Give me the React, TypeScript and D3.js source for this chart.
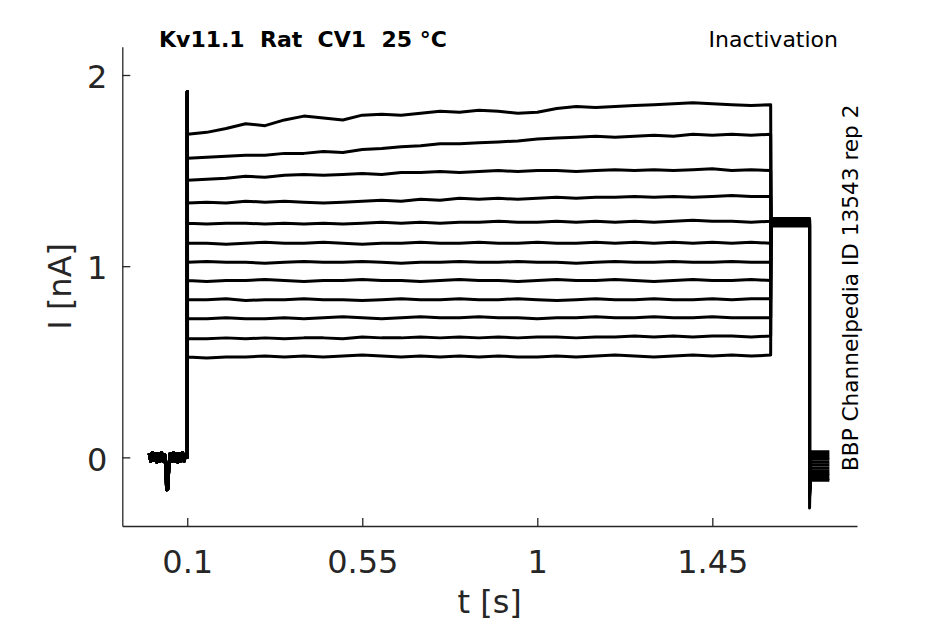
import React, { useEffect, useRef } from 'react';
import * as d3 from 'd3';

// axis ticks
const xTicks = [0.1, 0.55, 1, 1.45];
const yTicks = [0, 1, 2];

// holding period before the step (s, nA)
const baseTimes = [0.002, 0.006, 0.010, 0.014, 0.018, 0.022, 0.026, 0.030, 0.034, 0.038, 0.042, 0.045, 0.047, 0.050, 0.053, 0.056, 0.060, 0.064, 0.068, 0.072, 0.076, 0.080, 0.084, 0.088, 0.092, 0.096, 0.100];
const baseValues = [0.02, -0.02, 0.025, -0.015, 0.02, -0.025, 0.02, -0.02, 0.025, -0.02, 0.015, -0.06, -0.17, -0.165, -0.04, 0.02, -0.02, 0.025, -0.02, 0.02, -0.025, 0.02, -0.02, 0.025, -0.02, 0.015, 0.0];

// capacitive peak at the step onset
const peakTime = 0.1;
const peakValue = 1.913;

// step period, one row per sweep
const stepTimes = [0.1, 0.15, 0.2, 0.25, 0.3, 0.35, 0.4, 0.45, 0.5, 0.55, 0.6, 0.65, 0.7, 0.75, 0.8, 0.85, 0.9, 0.95, 1.0, 1.05, 1.1, 1.15, 1.2, 1.25, 1.3, 1.35, 1.4, 1.45, 1.5, 1.55, 1.6];
const sweep1 = [1.69, 1.70, 1.72, 1.745, 1.735, 1.765, 1.785, 1.775, 1.765, 1.79, 1.795, 1.79, 1.80, 1.81, 1.805, 1.815, 1.81, 1.80, 1.805, 1.825, 1.835, 1.83, 1.835, 1.84, 1.845, 1.85, 1.855, 1.85, 1.845, 1.84, 1.845];
const sweep2 = [1.565, 1.57, 1.575, 1.58, 1.58, 1.59, 1.59, 1.60, 1.595, 1.61, 1.615, 1.625, 1.63, 1.64, 1.64, 1.645, 1.65, 1.655, 1.665, 1.67, 1.675, 1.68, 1.675, 1.68, 1.685, 1.68, 1.69, 1.685, 1.69, 1.685, 1.69];
const sweep3 = [1.45, 1.455, 1.46, 1.47, 1.465, 1.475, 1.48, 1.475, 1.48, 1.485, 1.48, 1.49, 1.49, 1.495, 1.49, 1.495, 1.50, 1.495, 1.50, 1.50, 1.495, 1.50, 1.505, 1.50, 1.505, 1.50, 1.505, 1.51, 1.50, 1.505, 1.50];
const sweep4 = [1.33, 1.335, 1.33, 1.34, 1.335, 1.34, 1.335, 1.33, 1.335, 1.34, 1.345, 1.34, 1.35, 1.345, 1.355, 1.35, 1.355, 1.35, 1.355, 1.36, 1.355, 1.36, 1.36, 1.365, 1.36, 1.365, 1.36, 1.365, 1.37, 1.365, 1.365];
const sweep5 = [1.225, 1.22, 1.225, 1.225, 1.22, 1.225, 1.22, 1.225, 1.22, 1.225, 1.23, 1.225, 1.23, 1.225, 1.23, 1.23, 1.235, 1.23, 1.23, 1.235, 1.23, 1.235, 1.23, 1.235, 1.23, 1.235, 1.24, 1.235, 1.235, 1.23, 1.235];
const sweep6 = [1.12, 1.12, 1.115, 1.12, 1.125, 1.12, 1.12, 1.125, 1.12, 1.115, 1.12, 1.12, 1.125, 1.12, 1.12, 1.125, 1.12, 1.12, 1.125, 1.12, 1.12, 1.125, 1.12, 1.125, 1.12, 1.125, 1.12, 1.125, 1.12, 1.125, 1.12];
const sweep7 = [1.02, 1.025, 1.02, 1.02, 1.015, 1.02, 1.025, 1.02, 1.02, 1.025, 1.02, 1.015, 1.02, 1.02, 1.025, 1.02, 1.02, 1.025, 1.02, 1.02, 1.015, 1.02, 1.025, 1.02, 1.02, 1.025, 1.02, 1.02, 1.025, 1.02, 1.02];
const sweep8 = [0.925, 0.92, 0.925, 0.925, 0.93, 0.925, 0.92, 0.925, 0.925, 0.93, 0.925, 0.925, 0.92, 0.925, 0.93, 0.925, 0.925, 0.92, 0.925, 0.93, 0.925, 0.925, 0.93, 0.925, 0.92, 0.925, 0.93, 0.925, 0.925, 0.93, 0.925];
const sweep9 = [0.825, 0.825, 0.83, 0.82, 0.825, 0.825, 0.83, 0.825, 0.825, 0.82, 0.825, 0.83, 0.825, 0.825, 0.83, 0.825, 0.825, 0.83, 0.825, 0.82, 0.825, 0.83, 0.825, 0.825, 0.83, 0.825, 0.825, 0.83, 0.825, 0.83, 0.83];
const sweep10 = [0.725, 0.725, 0.73, 0.725, 0.725, 0.73, 0.725, 0.73, 0.735, 0.73, 0.725, 0.73, 0.735, 0.73, 0.73, 0.735, 0.73, 0.73, 0.725, 0.73, 0.73, 0.735, 0.73, 0.73, 0.735, 0.73, 0.73, 0.735, 0.73, 0.73, 0.73];
const sweep11 = [0.62, 0.62, 0.625, 0.62, 0.625, 0.62, 0.625, 0.625, 0.62, 0.63, 0.625, 0.625, 0.63, 0.625, 0.63, 0.625, 0.63, 0.625, 0.63, 0.63, 0.625, 0.63, 0.63, 0.635, 0.63, 0.635, 0.63, 0.635, 0.635, 0.63, 0.635];
const sweep12 = [0.525, 0.52, 0.525, 0.525, 0.53, 0.525, 0.53, 0.525, 0.53, 0.535, 0.53, 0.525, 0.53, 0.525, 0.53, 0.525, 0.53, 0.525, 0.525, 0.53, 0.525, 0.53, 0.535, 0.53, 0.525, 0.53, 0.535, 0.53, 0.535, 0.53, 0.535];
const sweeps = [sweep1, sweep2, sweep3, sweep4, sweep5, sweep6, sweep7, sweep8, sweep9, sweep10, sweep11, sweep12];

// tail period after the step, one level per sweep
const tailTimes = [1.601, 1.625, 1.65, 1.675, 1.70];
const tailLevels = [1.25, 1.215, 1.24, 1.225, 1.245, 1.21, 1.235, 1.22, 1.25, 1.23, 1.215, 1.24];

// return to holding, transient minimum and settled level per sweep
const dropTime = 1.70;
const dropLevels = [-0.265, -0.2, -0.18, -0.15, -0.21, -0.16, -0.19, -0.14, -0.17, -0.2, -0.15, -0.18];
const endTimes = [1.703, 1.71, 1.72, 1.73, 1.74, 1.751];
const endLevels = [0.03, -0.11, 0.015, -0.07, -0.025, -0.095, 0.0, -0.04, -0.12, -0.055, -0.01, -0.085];

const App = () => {
  const svgRef = useRef<SVGSVGElement>(null);

  useEffect(() => {
    if (svgRef.current) drawChart();
  }, []);

  const drawChart = () => {
    const svg = d3.select(svgRef.current);
    svg.selectAll('*').remove();

    const left = 122.3, right = 857, top = 46.7, bottom = 526;
    const axisColor = '#262626';
    const font = 'DejaVu Sans, Verdana, sans-serif';

    const x = d3.scaleLinear().domain([-0.067, 1.822]).range([left, right]);
    const y = d3.scaleLinear().domain([-0.359, 2.148]).range([bottom, top]);

    const line = d3.line<[number, number]>()
      .x(d => x(d[0]))
      .y(d => y(d[1]));

    // traces
    const traces = svg.append('g');
    sweeps.forEach((values, i) => {
      const pts: [number, number][] = [];
      baseTimes.forEach((t, j) => pts.push([t, baseValues[j]]));
      pts.push([peakTime, peakValue]);
      stepTimes.forEach((t, j) => pts.push([t + (j === 0 ? 0.0008 : 0), values[j]]));
      tailTimes.forEach(t => pts.push([t, tailLevels[i]]));
      pts.push([dropTime, dropLevels[i]]);
      endTimes.forEach(t => pts.push([t, endLevels[i]]));
      traces.append('path')
        .attr('d', line(pts))
        .attr('fill', 'none')
        .attr('stroke', '#000')
        .attr('stroke-width', 3)
        .attr('stroke-linejoin', 'round');
    });

    // x axis
    const xAxis = svg.append('g')
      .attr('transform', `translate(0,${bottom})`)
      .call(d3.axisBottom(x).tickValues(xTicks).tickSize(-8).tickSizeOuter(0).tickPadding(24).tickFormat(d => String(d)));

    // y axis
    const yAxis = svg.append('g')
      .attr('transform', `translate(${left},0)`)
      .call(d3.axisLeft(y).tickValues(yTicks).tickSize(-8).tickSizeOuter(0).tickPadding(15).tickFormat(d => String(d)));
    yAxis.selectAll('.tick text').attr('dy', '0.4em');

    [xAxis, yAxis].forEach(g => {
      g.attr('font-family', font).attr('font-size', 32);
      g.select('.domain').attr('stroke', axisColor).attr('stroke-width', 1.3);
      g.selectAll('.tick line').attr('stroke', axisColor).attr('stroke-width', 1.3);
      g.selectAll('.tick text').attr('fill', axisColor);
    });

    // axis labels
    svg.append('text')
      .attr('x', (left + right) / 2)
      .attr('y', 613)
      .attr('text-anchor', 'middle')
      .attr('font-family', font)
      .attr('font-size', 32)
      .attr('fill', axisColor)
      .text('t [s]');

    svg.append('text')
      .attr('transform', `translate(71,${(top + bottom) / 2}) rotate(-90)`)
      .attr('text-anchor', 'middle')
      .attr('font-family', font)
      .attr('font-size', 32)
      .attr('fill', axisColor)
      .text('I [nA]');

    // title and annotations
    svg.append('text')
      .attr('x', 159)
      .attr('y', 46.5)
      .attr('font-family', font)
      .attr('font-size', 22)
      .attr('font-weight', 'bold')
      .attr('fill', '#000')
      .style('white-space', 'pre')
      .text('Kv11.1  Rat  CV1  25 °C');

    svg.append('text')
      .attr('x', 838)
      .attr('y', 46.5)
      .attr('text-anchor', 'end')
      .attr('font-family', font)
      .attr('font-size', 22)
      .attr('fill', '#000')
      .text('Inactivation');

    svg.append('text')
      .attr('transform', 'translate(858,471) rotate(-90)')
      .attr('font-family', font)
      .attr('font-size', 21.6)
      .attr('fill', '#000')
      .text('BBP Channelpedia ID 13543 rep 2');
  };

  return (
    <svg
      ref={svgRef}
      width={945}
      height={624}
      style={{ position: 'absolute', left: 0, top: 0, background: '#fff' }}
    />
  );
};

export default App;
